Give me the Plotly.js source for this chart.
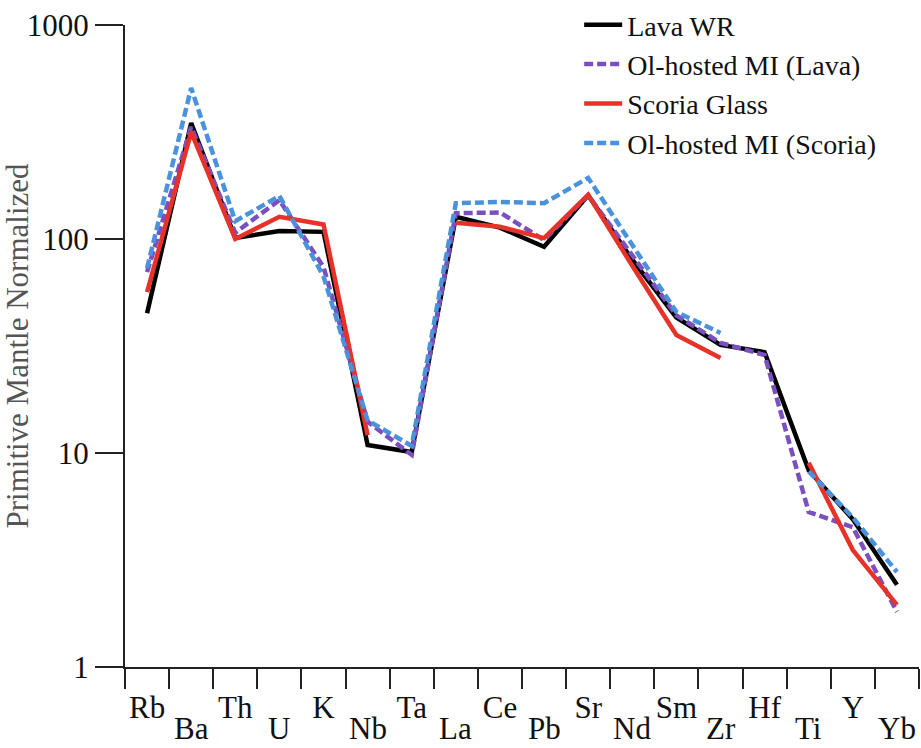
<!DOCTYPE html>
<html>
<head>
<meta charset="utf-8">
<script src="https://cdn.plot.ly/plotly-3.0.1.min.js"></script>
<style>html,body{margin:0;padding:0;background:#fff;}#chart{width:921px;height:748px;}</style>
</head>
<body>
<div id="chart"></div>
<script>
const categories = ['Rb','Ba','Th','U','K','Nb','Ta','La','Ce','Pb','Sr','Nd','Sm','Zr','Hf','Ti','Y','Yb'];
const lavaWR   = [45, 348, 101, 109, 108, 10.9, 10.1, 127, 113, 92, 160, 80, 43, 32, 29.6, 8.3, 4.9, 2.42];
const olLava   = [70, 334, 107, 152, 74, 14.0, 9.8, 132, 133, 99, 160, 84, 44, 32.7, 28.7, 5.3, 4.5, 1.81];
const scoria   = [56.5, 316, 100, 127, 117, 12.1, null, 119, 114, 101, 161, 75, 35.6, 27.8, null, 9.0, 3.52, 1.95];
const olScoria = [73, 508, 121, 159, 67, 14.2, 10.8, 147, 149, 147, 193, 93, 45.6, 36.4, null, 8.2, 5.0, 2.78];
const seriesNames = ['Lava WR', 'Ol-hosted MI (Lava)', 'Scoria Glass', 'Ol-hosted MI (Scoria)'];
const yTicks = [1, 10, 100, 1000];

const FONT = 'Liberation Serif';
const topLabels = categories.map((c, i) => i % 2 === 0 ? c : '');
const lowerRow = categories.filter((c, i) => i % 2 === 1);

const traces = [
  {x: categories, y: lavaWR, name: seriesNames[0], mode: 'lines', line: {color: '#000000', width: 4.5}},
  {x: categories, y: olLava, name: seriesNames[1], mode: 'lines', line: {color: '#7a4fc0', width: 4.5, dash: '9px,4px'}},
  {x: categories, y: scoria, name: seriesNames[2], mode: 'lines', line: {color: '#e63228', width: 4.5}, connectgaps: false},
  {x: categories, y: olScoria, name: seriesNames[3], mode: 'lines', line: {color: '#4a93dc', width: 4.5, dash: '9px,4px'}, connectgaps: false}
];

const annotations = lowerRow.map(c => ({
  x: c, xref: 'x', y: 0, yref: 'paper', yanchor: 'bottom', xanchor: 'center', yshift: -81,
  text: c, showarrow: false, font: {family: FONT, size: 31, color: '#111'}
}));

const layout = {
  width: 921, height: 748,
  margin: {l: 125, r: 2, t: 0, b: 81},
  paper_bgcolor: '#ffffff', plot_bgcolor: '#ffffff',
  font: {family: FONT, size: 31, color: '#111'},
  showlegend: true,
  legend: {x: 0.572, xanchor: 'left', y: 1.0, yanchor: 'top', bgcolor: 'rgba(0,0,0,0)',
           font: {family: FONT, size: 28, color: '#111'}, tracegroupgap: 0, itemwidth: 38},
  annotations: annotations,
  xaxis: {type: 'category', categoryarray: categories, range: [-0.5, 17.5],
          tickvals: categories, ticktext: topLabels, tickson: 'boundaries', tickangle: 0,
          ticks: 'outside', ticklen: 20, tickwidth: 2, tickcolor: '#222', ticklabelstandoff: 12,
          showline: true, linewidth: 2, linecolor: '#222', showgrid: false, zeroline: false,
          tickfont: {family: FONT, size: 31, color: '#111'}},
  yaxis: {type: 'log', range: [0, 3], domain: [0, 642 / 667], tickvals: yTicks, ticktext: yTicks.map(String),
          ticks: 'outside', ticklen: 28, tickwidth: 2, tickcolor: '#222',
          showline: true, linewidth: 2, linecolor: '#222', showgrid: false, zeroline: false,
          tickfont: {family: FONT, size: 31, color: '#111'},
          title: {text: 'Primitive Mantle Normalized', font: {family: FONT, size: 31, color: '#555'}, standoff: 2}}
};

Plotly.newPlot('chart', traces, layout, {displayModeBar: false, staticPlot: true});
</script>
</body>
</html>
